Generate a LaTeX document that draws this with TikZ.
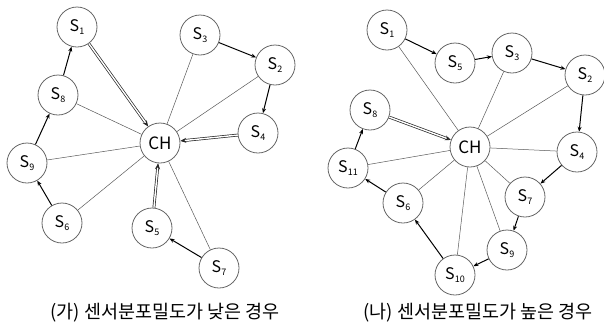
\documentclass[tikz,border=0pt]{standalone}
\usepackage{fontspec}
\setmainfont{Noto Sans CJK KR}
\usetikzlibrary{arrows.meta}
\newcommand{\Sn}[1]{S\raisebox{-0.35ex}{\fontsize{9}{10}\selectfont #1}}
\begin{document}
\begin{tikzpicture}[x=1pt,y=-1pt,
  sn/.style={circle,draw=black!60,line width=0.8pt,minimum size=40pt,inner sep=0pt,font=\fontsize{16}{18}\selectfont},
  chn/.style={sn,font=\fontsize{17}{19}\selectfont},
  thinln/.style={draw=black!65,line width=0.5pt},
  arr/.style={draw=black,line width=1pt,-{Stealth[length=5pt,width=4pt]}},
  dbl/.style={draw=black!85,line width=0.7pt,double=white,double distance=1.4pt,-{Stealth[length=6pt,width=5pt]}},
  captxt/.style={font=\fontsize{18.5}{21}\selectfont}]
\useasboundingbox (0,0) rectangle (604,330);
% left
\node[sn] (a1) at (77,27) {\Sn{1}};
\node[sn] (a3) at (200,35) {\Sn{3}};
\node[sn] (a2) at (275,65) {\Sn{2}};
\node[sn] (a8) at (58,95) {\Sn{8}};
\node[chn] (ach) at (160,143) {CH};
\node[sn] (a4) at (258,133) {\Sn{4}};
\node[sn] (a9) at (27,163) {\Sn{9}};
\node[sn] (a6) at (62,223) {\Sn{6}};
\node[sn] (a5) at (152,228) {\Sn{5}};
\node[sn] (a7) at (219,268) {\Sn{7}};
\foreach \n in {a8,a3,a2,a9,a6,a7} \draw[thinln] (\n) -- (ach);
\draw[dbl] (a1) -- (ach);
\draw[dbl] (a4) -- (ach);
\draw[dbl] (a5) -- (ach);
\draw[arr] (a3) -- (a2);
\draw[arr] (a2) -- (a4);
\draw[arr] (a9) -- (a8);
\draw[arr] (a8) -- (a1);
\draw[arr] (a6) -- (a9);
\draw[arr] (a7) -- (a5);
\node[captxt] (capa) at (165,313) {(가) 센서분포밀도가 낮은 경우};
% right
\node[sn] (b1) at (387,30) {\Sn{1}};
\node[sn] (b5) at (455,63) {\Sn{5}};
\node[sn] (b3) at (512,53) {\Sn{3}};
\node[sn] (b2) at (585,75) {\Sn{2}};
\node[sn] (b8) at (370,110) {\Sn{8}};
\node[chn] (bch) at (470,147) {CH};
\node[sn] (b4) at (577,152) {\Sn{4}};
\node[sn] (b11) at (348,168) {\Sn{11}};
\node[sn] (b6) at (403,203) {\Sn{6}};
\node[sn] (b7) at (525,197) {\Sn{7}};
\node[sn] (b9) at (507,250) {\Sn{9}};
\node[sn] (b10) at (455,275) {\Sn{10}};
\foreach \n in {b1,b3,b2,b4,b11,b6,b10,b9,b7} \draw[thinln] (\n) -- (bch);
\draw[dbl] (b8) -- (bch);
\draw[arr] (b1) -- (b5);
\draw[arr] (b5) -- (b3);
\draw[arr] (b3) -- (b2);
\draw[arr] (b2) -- (b4);
\draw[arr] (b4) -- (b7);
\draw[arr] (b7) -- (b9);
\draw[arr] (b9) -- (b10);
\draw[arr] (b10) -- (b6);
\draw[arr] (b6) -- (b11);
\draw[arr] (b11) -- (b8);
\node[captxt] (capb) at (478,313) {(나) 센서분포밀도가 높은 경우};
\end{tikzpicture}
\end{document}
